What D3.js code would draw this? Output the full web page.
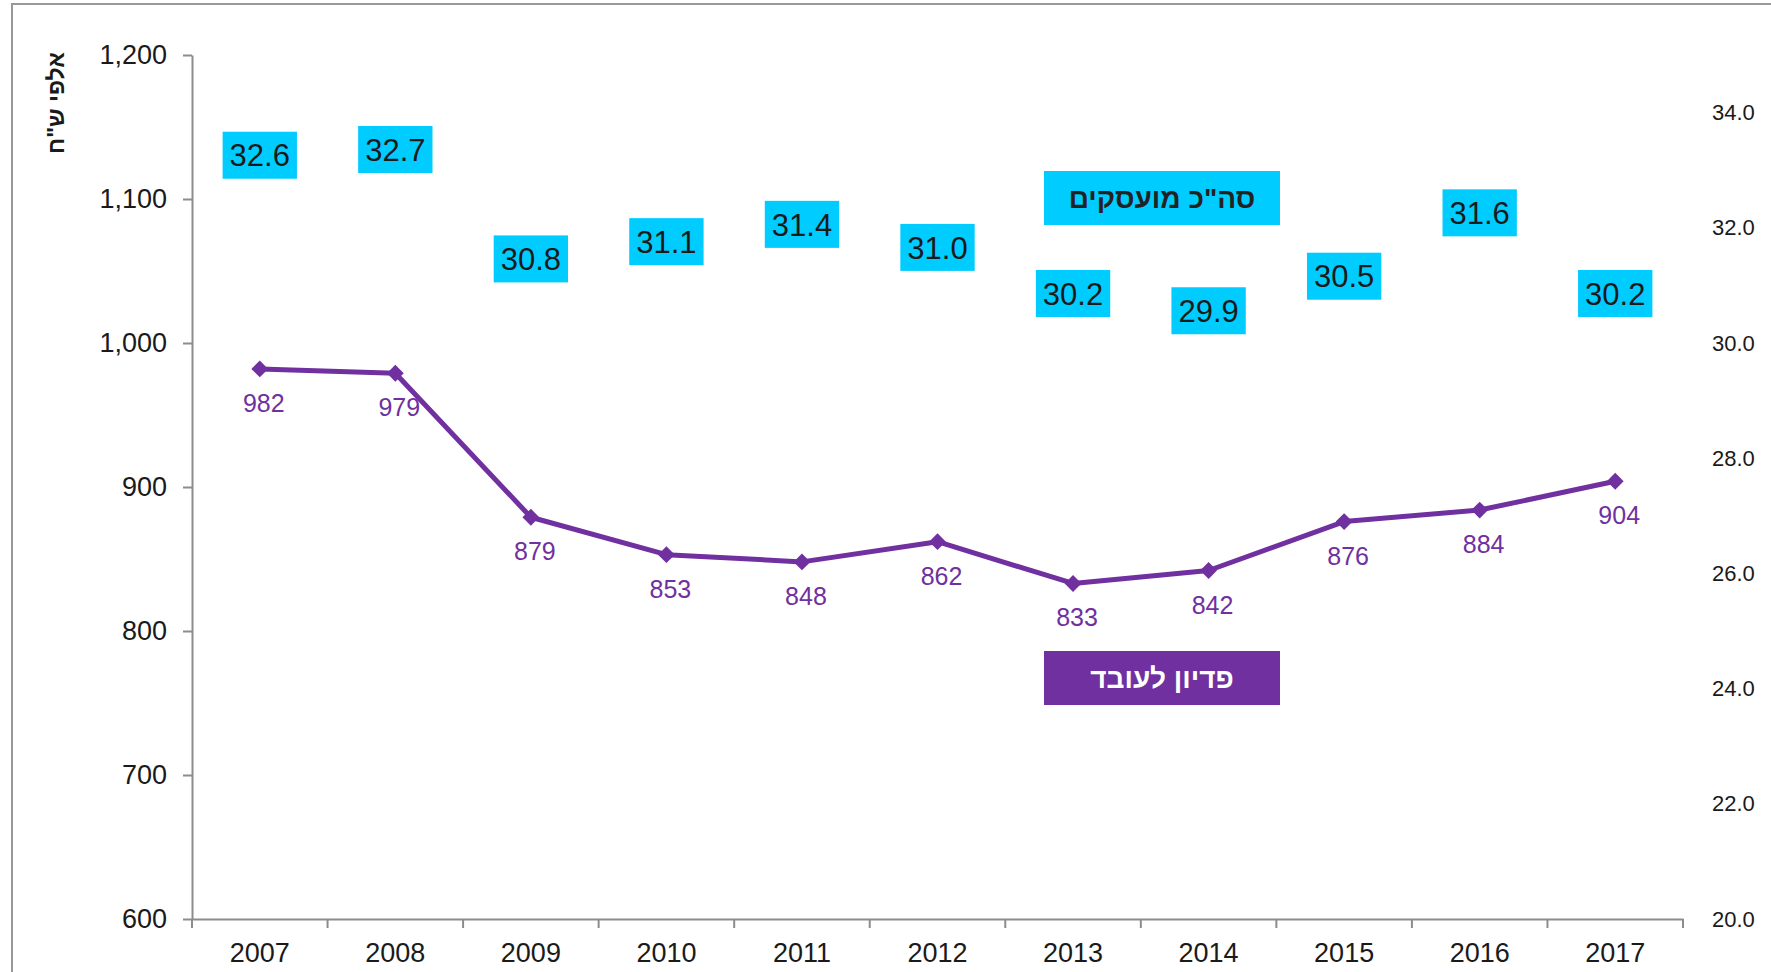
<!DOCTYPE html>
<html>
<head>
<meta charset="utf-8">
<script src="https://cdn.jsdelivr.net/npm/d3@7"></script>
<style>
body { margin:0; background:#fff; }
text { font-family: Arial, "Liberation Sans", "DejaVu Sans", sans-serif; }
</style>
</head>
<body>
<svg id="chart" width="1771" height="972"></svg>
<script>
// data
var years = ["2007","2008","2009","2010","2011","2012","2013","2014","2015","2016","2017"];
var wagePerWorker = [982, 979, 879, 853, 848, 862, 833, 842, 876, 884, 904];
var employed = [32.6, 32.7, 30.8, 31.1, 31.4, 31.0, 30.2, 29.9, 30.5, 31.6, 30.2];
var leftTicks = [600, 700, 800, 900, 1000, 1100, 1200];
var rightTicks = [20, 22, 24, 26, 28, 30, 32, 34];
var yTitle = "אלפי ש\"ח";
var legendEmployed = "סה\"כ מועסקים";
var legendWage = "פדיון לעובד";

var width = 1771, height = 972;
var margin = {top: 55, right: 88, bottom: 53, left: 192};
var purple = "#7030a0", cyan = "#00ccff", axisGray = "#8c8c8c", ink = "#1a1a1a";

var svg = d3.select("#chart");

// outer frame
svg.append("rect")
	.attr("x", 12).attr("y", 4)
	.attr("width", width).attr("height", height)
	.attr("fill", "none")
	.attr("stroke", "#999")
	.attr("stroke-width", 2);

var x = d3.scaleBand()
	.domain(years)
	.range([margin.left, width - margin.right])
	.padding(0);
var yL = d3.scaleLinear()
	.domain([600, 1200])
	.range([height - margin.bottom, margin.top]);
var yR = d3.scaleLinear()
	.domain([20, 35])
	.range([height - margin.bottom, margin.top]);

// left axis
var gL = svg.append("g")
	.attr("transform", "translate(" + margin.left + ",0)")
	.call(d3.axisLeft(yL).tickValues(leftTicks).tickFormat(d3.format(",")).tickSize(9).tickSizeOuter(0).tickPadding(16));
gL.selectAll("line, path").attr("stroke", axisGray).attr("stroke-width", 2);
gL.selectAll("text").attr("font-size", 27).attr("fill", ink).style("font-family", "Arial, 'Liberation Sans', sans-serif");

// right axis (labels only)
var gR = svg.append("g")
	.attr("transform", "translate(" + (width - margin.right) + ",0)")
	.call(d3.axisRight(yR).tickValues(rightTicks).tickFormat(d3.format(".1f")).tickSize(0).tickPadding(29));
gR.select(".domain").remove();
gR.selectAll("text").attr("font-size", 22).attr("fill", ink).style("font-family", "Arial, 'Liberation Sans', sans-serif");

// bottom axis
var gB = svg.append("g")
	.attr("transform", "translate(0," + (height - margin.bottom) + ")")
	.call(d3.axisBottom(x).tickSize(0).tickPadding(24));
gB.select(".domain").attr("stroke", axisGray).attr("stroke-width", 2);
gB.selectAll("text").attr("font-size", 27).attr("fill", ink).style("font-family", "Arial, 'Liberation Sans', sans-serif");
var bounds = years.map(function(d) { return x(d); }).concat([x.range()[1]]);
gB.selectAll(".bound")
	.data(bounds)
	.enter().append("line")
	.attr("class", "bound")
	.attr("x1", function(d) { return d; })
	.attr("x2", function(d) { return d; })
	.attr("y1", 0).attr("y2", 9)
	.attr("stroke", axisGray)
	.attr("stroke-width", 2);

// y title
svg.append("text")
	.attr("transform", "translate(56,103) rotate(-90)")
	.attr("text-anchor", "middle")
	.attr("dy", "0.35em")
	.attr("font-size", 23)
	.attr("font-weight", "bold")
	.attr("fill", ink)
	.attr("direction", "rtl")
	.text(yTitle);

var cx = function(i) { return x(years[i]) + x.bandwidth() / 2; };

// employed: labels in cyan boxes
var empG = svg.append("g");
employed.forEach(function(v, i) {
	var g = empG.append("g")
		.attr("transform", "translate(" + cx(i) + "," + (yR(v) - 38) + ")");
	var t = g.append("text")
		.attr("text-anchor", "middle")
		.attr("dy", "0.36em")
		.attr("font-size", 31)
		.attr("fill", ink)
		.text(d3.format(".1f")(v));
	var w = t.node().getComputedTextLength() + 14;
	g.insert("rect", "text")
		.attr("x", -w / 2).attr("y", -23.5)
		.attr("width", w).attr("height", 47)
		.attr("fill", cyan);
});

// wage line
var pts = wagePerWorker.map(function(v, i) { return [cx(i), yL(v)]; });
svg.append("path")
	.datum(pts)
	.attr("fill", "none")
	.attr("stroke", purple)
	.attr("stroke-width", 5)
	.attr("stroke-linejoin", "round")
	.attr("d", d3.line());

svg.selectAll(".marker")
	.data(pts)
	.enter().append("path")
	.attr("class", "marker")
	.attr("transform", function(d) { return "translate(" + d[0] + "," + d[1] + ")"; })
	.attr("d", d3.symbol().type(d3.symbolDiamond2).size(180))
	.attr("fill", purple);

svg.selectAll(".wlabel")
	.data(wagePerWorker)
	.enter().append("text")
	.attr("class", "wlabel")
	.attr("x", function(d, i) { return cx(i) + 4; })
	.attr("y", function(d) { return yL(d) + 34; })
	.attr("dy", "0.36em")
	.attr("text-anchor", "middle")
	.attr("font-size", 25)
	.attr("fill", purple)
	.text(function(d) { return d; });

// legend boxes
function legendBox(cxp, cyp, fill, color, label) {
	var g = svg.append("g").attr("transform", "translate(" + cxp + "," + cyp + ")");
	g.append("rect")
		.attr("x", -118).attr("y", -27)
		.attr("width", 236).attr("height", 54)
		.attr("fill", fill);
	g.append("text")
		.attr("text-anchor", "middle")
		.attr("dy", "0.36em")
		.attr("direction", "rtl")
		.attr("font-size", 28)
		.attr("font-weight", "bold")
		.attr("fill", color)
		.text(label);
}
legendBox(1162, 198, cyan, "#222", legendEmployed);
legendBox(1162, 678, purple, "#fff", legendWage);
</script>
</body>
</html>
